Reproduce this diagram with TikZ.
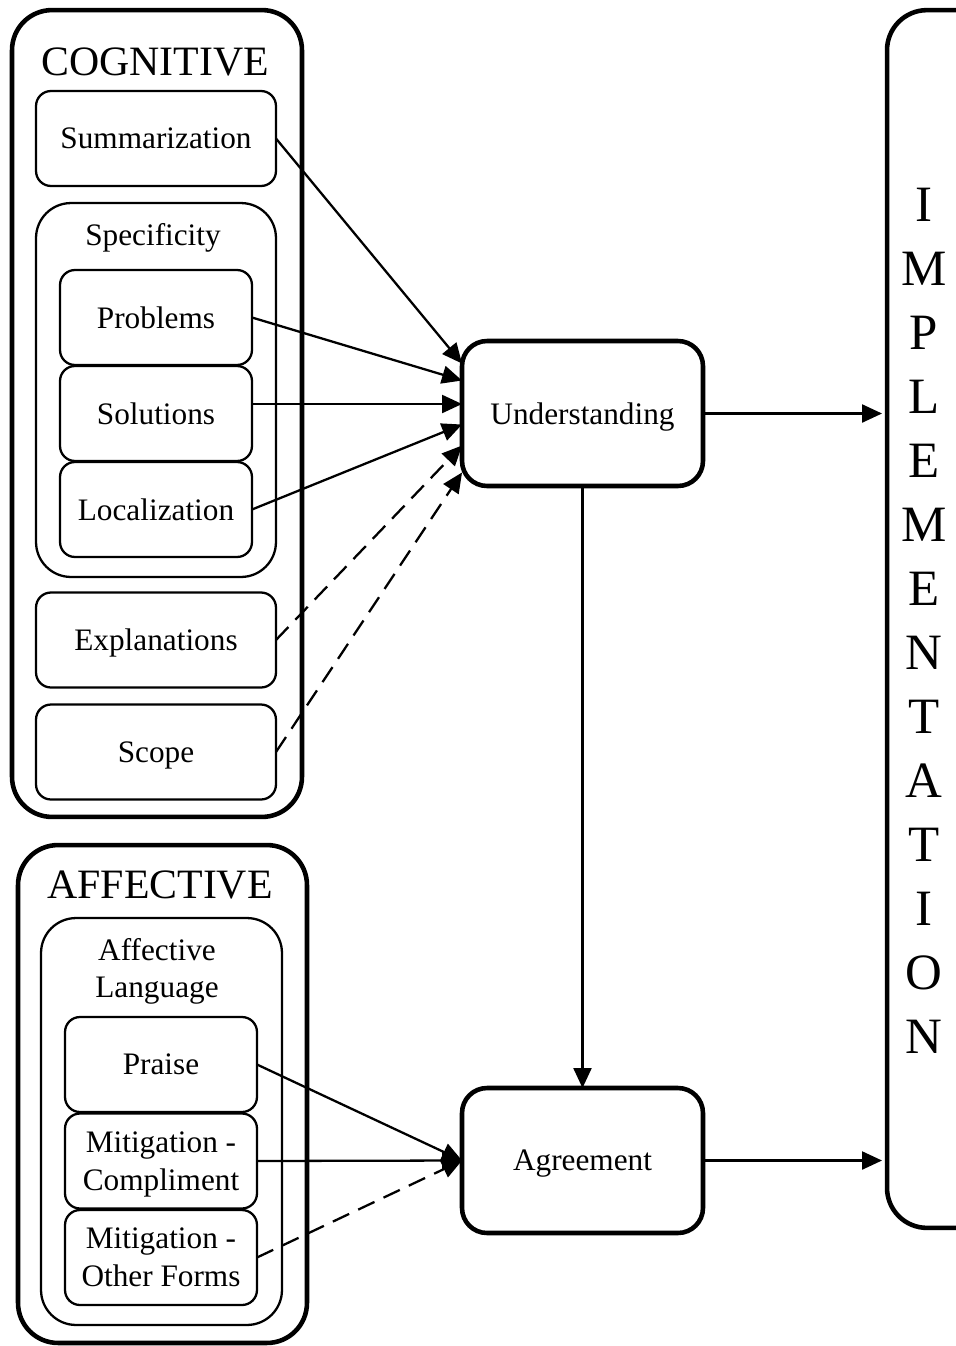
\documentclass[tikz,border=0pt]{standalone}
\usepackage{fontspec}
\setmainfont{Liberation Serif}
\usetikzlibrary{arrows.meta}

\begin{document}
\begin{tikzpicture}[x=0.02cm, y=-0.02cm,
every node/.style = {text depth=0pt},
itembox/.style = {draw, rounded corners=0.3cm, line width=1.3pt,
            minimum width=#1, minimum height=1.9cm, inner sep=0pt,
            outer sep=0pt, align=center, font=\fontsize{17.8}{21.5}\selectfont},
itembox/.default = 4.8cm, % width of the cue boxes
groupbox/.style = {draw, rounded corners=0.7cm, line width=1.3pt,
            inner sep=0pt, outer sep=0pt},
catbox/.style = {draw, rounded corners=0.8cm, line width=2.6pt,
            inner sep=0pt, outer sep=0pt},
mainbox/.style = {draw, rounded corners=0.5cm, line width=2.6pt,
            minimum width=4.82cm, minimum height=2.9cm, inner sep=0pt,
            outer sep=0pt, font=\fontsize{17.8}{21.5}\selectfont},
headline/.style = {font=\fontsize{23.8}{28}\selectfont},
sublabel/.style = {font=\fontsize{17.8}{21.5}\selectfont, align=center},
arr/.style = {line width=1.3pt, -{Triangle[length=0.4cm, width=0.36cm]}},
dashline/.style = {dash pattern=on 0.36cm off 0.2cm}
                ]
    \useasboundingbox (0,0) rectangle (956,1346);
    \clip (0,0) rectangle (956,1346);
    % cognitive
    \node[catbox, minimum width=5.8cm, minimum height=16.14cm] (cog) at (157,413.5) {};
    \node[headline] (cogtitle) at (155,62) {COGNITIVE};
    \node[itembox] (summ) at (156,138.5) {Summarization};
    \node[groupbox, minimum width=4.8cm, minimum height=7.48cm] (spec) at (156,390) {};
    \node[sublabel] (spectitle) at (153,234) {Specificity};
    \foreach \y/\n/\t in {317.5/prob/Problems, 413.5/sol/Solutions, 509.5/loc/Localization}
        \node[itembox=3.84cm] (\n) at (156,\y) {\t};
    \node[itembox] (expl) at (156,640) {Explanations};
    \node[itembox] (scp) at (156,752) {Scope};
    % affective
    \node[catbox, minimum width=5.78cm, minimum height=9.96cm] (aff) at (162.5,1094) {};
    \node[headline] (afftitle) at (160,885) {AFFECTIVE};
    \node[groupbox, minimum width=4.82cm, minimum height=8.14cm] (afflang) at (161.5,1121.5) {};
    \node[sublabel] (afflangtitle) at (157,968) {Affective\\Language};
    \foreach \y/\n/\t in {1064.5/praise/Praise, 1161/compl/{Mitigation -\\Compliment}, 1257.5/other/{Mitigation -\\Other Forms}}
        \node[itembox=3.84cm] (\n) at (161,\y) {\t};
    % outcomes
    \node[mainbox] (und) at (582.5,413.5) {Understanding};
    \node[mainbox] (agr) at (582.5,1160.5) {Agreement};
    \node[catbox, minimum width=6cm, minimum height=24.36cm] (impl) at (1037,619) {};
    \foreach \l [count=\i from 0] in {I,M,P,L,E,M,E,N,T,A,T,I,O,N}
        \node[font=\fontsize{29}{32}\selectfont] (impl\i) at (924,205+64*\i) {\l};
    % arrows
    \draw[arr] (summ.east) -- ([yshift=1cm]und.west);
    \draw[arr] (prob.east) -- ([yshift=0.66cm]und.west);
    \draw[arr] ([yshift=0.19cm]sol.east) -- ([yshift=0.19cm]und.west);
    \draw[arr] (loc.east) -- ([yshift=-0.22cm]und.west);
    \draw[arr, dashline] (expl.east) -- ([yshift=-0.64cm]und.west);
    \draw[arr, dashline] (scp.east) -- ([yshift=-1.18cm]und.west);
    \draw[arr, shorten >=0.1cm] (und.east) -- (und.east -| impl.west);
    \draw[arr] (und.south) -- (agr.north);
    \draw[arr, shorten >=0.1cm] (agr.east) -- (agr.east -| impl.west);
    \draw[arr] (praise.east) -- (agr.west);
    \draw[arr] (compl.east) -- (agr.west);
    \draw[arr, dashline] (other.east) -- (agr.west);
\end{tikzpicture}
\end{document}
